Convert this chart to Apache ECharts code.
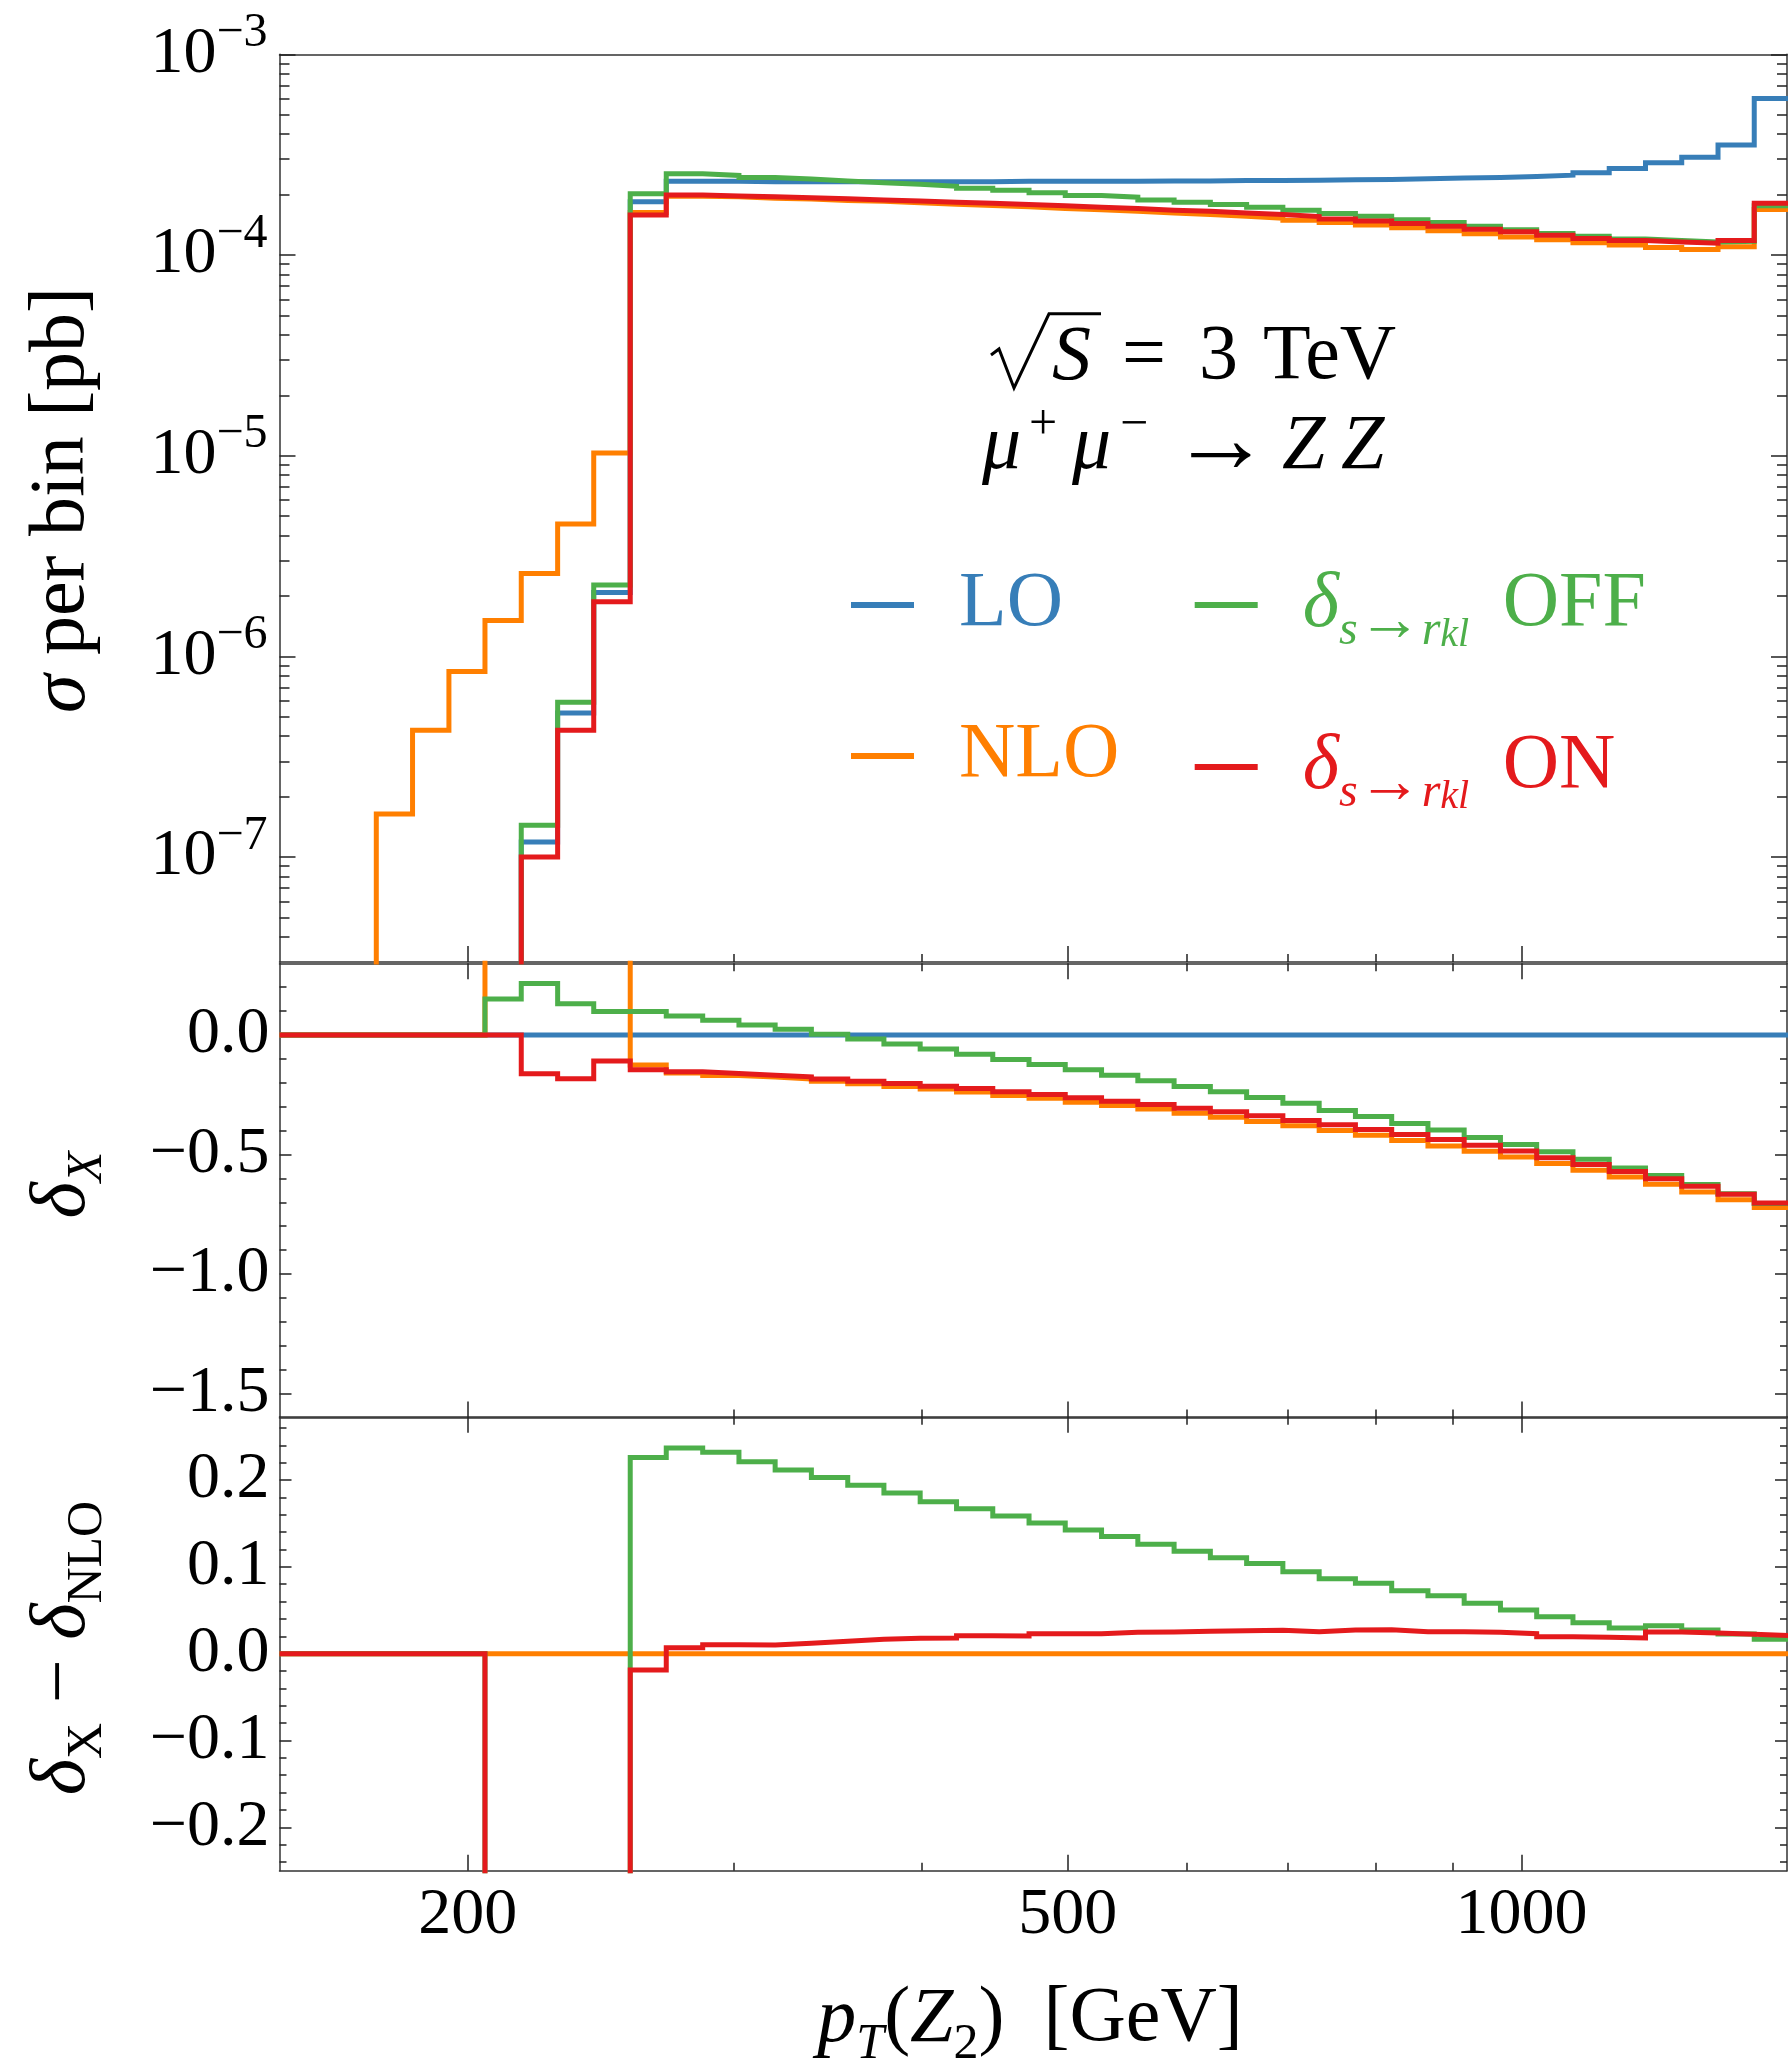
<!DOCTYPE html>
<html><head><meta charset="utf-8">
<script src="https://cdn.jsdelivr.net/npm/echarts@6/dist/echarts.min.js"></script>
<style>html,body{margin:0;padding:0;background:#fff}#c{width:1788px;height:2066px}</style>
</head><body><div id="c"></div>
<script>
// ---------------- data ----------------
// histogram bin edges in pT(Z2) [GeV] (first chunk 150-173.9 is an empty filler)
const binEdges = [150, 173.9, 183.8, 194.3, 205.3, 217.0, 229.4, 242.4, 256.3, 270.8, 286.3,
  302.6, 319.8, 338.0, 357.3, 377.6, 399.1, 421.9, 445.9, 471.3, 498.1, 526.5, 556.5, 588.2,
  621.7, 657.1, 694.5, 734.1, 775.9, 820.1, 866.8, 916.1, 968.3, 1023.4, 1081.7, 1143.3,
  1208.4, 1277.2, 1350.0, 1426.8, 1508.1];

// top panel: sigma per bin [pb]
const sigmaLO = [0, 0, 0, 0, 0, 1.19e-7, 5.22e-7, 2.08e-6, 1.84e-4, 2.33e-4,
  2.33e-4, 2.32e-4, 2.32e-4, 2.32e-4, 2.32e-4, 2.32e-4, 2.32e-4, 2.32e-4, 2.33e-4, 2.33e-4,
  2.33e-4, 2.33e-4, 2.34e-4, 2.34e-4, 2.35e-4, 2.35e-4, 2.36e-4, 2.37e-4, 2.38e-4, 2.40e-4,
  2.42e-4, 2.43e-4, 2.46e-4, 2.50e-4, 2.57e-4, 2.70e-4, 2.88e-4, 3.07e-4, 3.53e-4, 6.03e-4];
const sigmaNLO = [0, 1.64e-7, 4.28e-7, 8.4e-7, 1.51e-6, 2.59e-6, 4.56e-6, 1.03e-5, 1.63e-4, 1.96e-4,
  1.95e-4, 1.92e-4, 1.90e-4, 1.87e-4, 1.85e-4, 1.82e-4, 1.79e-4, 1.765e-4, 1.74e-4, 1.705e-4,
  1.68e-4, 1.65e-4, 1.62e-4, 1.59e-4, 1.56e-4, 1.525e-4, 1.49e-4, 1.45e-4, 1.41e-4, 1.365e-4,
  1.32e-4, 1.275e-4, 1.23e-4, 1.19e-4, 1.15e-4, 1.12e-4, 1.09e-4, 1.065e-4, 1.10e-4, 1.685e-4];
const sigmaOFF = [0, 0, 0, 0, 0, 1.44e-7, 5.9e-7, 2.27e-6, 2.02e-4, 2.54e-4,
  2.49e-4, 2.43e-4, 2.39e-4, 2.34e-4, 2.29e-4, 2.25e-4, 2.20e-4, 2.15e-4, 2.10e-4, 2.04e-4,
  1.98e-4, 1.94e-4, 1.88e-4, 1.83e-4, 1.785e-4, 1.73e-4, 1.67e-4, 1.61e-4, 1.56e-4, 1.50e-4,
  1.45e-4, 1.39e-4, 1.335e-4, 1.28e-4, 1.24e-4, 1.20e-4, 1.18e-4, 1.16e-4, 1.17e-4, 1.76e-4];
const sigmaON = [0, 0, 0, 0, 0, 1.0e-7, 4.28e-7, 1.87e-6, 1.58e-4, 1.99e-4,
  1.97e-4, 1.95e-4, 1.93e-4, 1.905e-4, 1.88e-4, 1.86e-4, 1.83e-4, 1.81e-4, 1.785e-4, 1.76e-4,
  1.73e-4, 1.705e-4, 1.67e-4, 1.65e-4, 1.62e-4, 1.59e-4, 1.555e-4, 1.51e-4, 1.475e-4, 1.435e-4,
  1.39e-4, 1.345e-4, 1.305e-4, 1.255e-4, 1.21e-4, 1.18e-4, 1.16e-4, 1.145e-4, 1.18e-4, 1.81e-4];

// middle panel: delta_X  (10 = off the top of the panel)
const deltaLO = [0, 0, 0, 0, 0, 0, 0, 0, 0, 0,
  0, 0, 0, 0, 0, 0, 0, 0, 0, 0,
  0, 0, 0, 0, 0, 0, 0, 0, 0, 0,
  0, 0, 0, 0, 0, 0, 0, 0, 0, 0];
const deltaNLO = [0, 0, 0, 0, 10, 10, 10, 10, -0.126, -0.159,
  -0.169, -0.176, -0.184, -0.194, -0.204, -0.215, -0.226, -0.239, -0.253, -0.265,
  -0.281, -0.295, -0.310, -0.327, -0.344, -0.362, -0.380, -0.400, -0.419, -0.441,
  -0.464, -0.486, -0.510, -0.538, -0.566, -0.594, -0.624, -0.657, -0.689, -0.722];
const deltaOFF = [0, 0, 0, 0, 0.151, 0.215, 0.131, 0.098, 0.098, 0.080,
  0.0615, 0.042, 0.024, 0.003, -0.017, -0.038, -0.059, -0.081, -0.102, -0.123,
  -0.145, -0.168, -0.191, -0.215, -0.2375, -0.261, -0.286, -0.316, -0.341, -0.370,
  -0.397, -0.429, -0.458, -0.489, -0.520, -0.556, -0.588, -0.626, -0.664, -0.7055];
const deltaON = [0, 0, 0, 0, 0, -0.162, -0.183, -0.109, -0.145, -0.154,
  -0.161, -0.168, -0.175, -0.184, -0.193, -0.203, -0.214, -0.2235, -0.2375, -0.249,
  -0.263, -0.277, -0.291, -0.306, -0.321, -0.338, -0.358, -0.376, -0.395, -0.416,
  -0.437, -0.461, -0.485, -0.514, -0.542, -0.571, -0.601, -0.633, -0.666, -0.703];

// bottom panel: delta_X - delta_NLO  (-10 = off the bottom of the panel)
const diffNLO = [0, 0, 0, 0, 0, 0, 0, 0, 0, 0,
  0, 0, 0, 0, 0, 0, 0, 0, 0, 0,
  0, 0, 0, 0, 0, 0, 0, 0, 0, 0,
  0, 0, 0, 0, 0, 0, 0, 0, 0, 0];
const diffOFF = [0, 0, 0, 0, -10, -10, -10, -10, 0.226, 0.237,
  0.232, 0.221, 0.2116, 0.203, 0.194, 0.1852, 0.175, 0.167, 0.1586, 0.1505,
  0.1425, 0.135, 0.126, 0.118, 0.1106, 0.104, 0.0945, 0.0864, 0.081, 0.0726,
  0.0668, 0.058, 0.0503, 0.0426, 0.0357, 0.0296, 0.0323, 0.0273, 0.0227, 0.0165];
const diffON = [0, 0, 0, 0, -10, -10, -10, -10, -0.0188, 0.0069,
  0.0104, 0.010, 0.0119, 0.0142, 0.0165, 0.0177, 0.018, 0.0207, 0.0204, 0.023,
  0.023, 0.0246, 0.025, 0.0257, 0.0265, 0.0269, 0.0253, 0.0273, 0.0276, 0.0253,
  0.0253, 0.0246, 0.023, 0.0196, 0.0188, 0.018, 0.025, 0.0238, 0.0223, 0.0207];

// ticks
const xMajorTicks = [200, 500, 1000];
const xMinorTicks = [300, 400, 600, 700, 800, 900];
const logMajorTicks = [1e-7, 1e-6, 1e-5, 1e-4, 1e-3];
const logMinorTicks = [4e-8, 5e-8, 6e-8, 7e-8, 8e-8, 9e-8,
  2e-7, 3e-7, 4e-7, 5e-7, 6e-7, 7e-7, 8e-7, 9e-7,
  2e-6, 3e-6, 4e-6, 5e-6, 6e-6, 7e-6, 8e-6, 9e-6,
  2e-5, 3e-5, 4e-5, 5e-5, 6e-5, 7e-5, 8e-5, 9e-5,
  2e-4, 3e-4, 4e-4, 5e-4, 6e-4, 7e-4, 8e-4, 9e-4];
const midMajorTicks = [0, -0.5, -1.0, -1.5];
const midMinorTicks = [0.2, 0.1, -0.1, -0.2, -0.3, -0.4, -0.6, -0.7, -0.8, -0.9, -1.1, -1.2, -1.3, -1.4];
const botMajorTicks = [0.2, 0.1, 0, -0.1, -0.2];
const botMinorTicks = [0.26, 0.24, 0.22, 0.18, 0.16, 0.14, 0.12, 0.08, 0.06, 0.04, 0.02,
  -0.02, -0.04, -0.06, -0.08, -0.12, -0.14, -0.16, -0.18, -0.22, -0.24];

// ---------------- styling / building ----------------
const FONT = 'Liberation Serif';
const COL = {LO: '#377eb8', NLO: '#ff7f00', OFF: '#4daf4a', ON: '#e41a1c'};
const LOG_FLOOR = 1e-12; // empty bins sit below the log axis
const LINE_W = 5;

function steps(vals, logAxis) {
  const pts = vals.map((v, i) => [binEdges[i], (logAxis && v <= 0) ? LOG_FLOOR : v]);
  pts.push([binEdges[vals.length], pts[pts.length - 1][1]]);
  return pts;
}

const frameLS = {color: '#333', width: 1.5};
const tickLS = {color: '#222', width: 1.5};
const xAxes = [], yAxes = [];
const px = [], py = [];

function addX(gi, o) {
  xAxes.push(Object.assign({type: 'log', logBase: 10, min: 150, max: 1500, gridIndex: gi,
    splitLine: {show: false}, axisLabel: {show: false}, axisTick: {show: false},
    axisLine: {show: false, onZero: false}}, o));
  return xAxes.length - 1;
}
function addY(gi, base, o) {
  yAxes.push(Object.assign({gridIndex: gi, splitLine: {show: false}, axisLabel: {show: false},
    axisTick: {show: false}, axisLine: {show: false, onZero: false}}, base, o));
  return yAxes.length - 1;
}
const minusFmt = v => { const s = Math.abs(v) < 1e-9 ? '0.0' : v.toFixed(1); return s.replace('-', '\u2212'); };

const logRich = {
  b: {fontSize: 66, fontFamily: FONT, color: '#000', lineHeight: 90, verticalAlign: 'middle'},
  s: {fontSize: 48, fontFamily: FONT, color: '#000', lineHeight: 50, verticalAlign: 'top'}
};

const yBases = [
  {type: 'log', logBase: 10, min: 3e-8, max: 1e-3},
  {type: 'value', min: -1.6, max: 0.3},
  {type: 'value', min: -0.25, max: 0.273}
];
const yMajor = [logMajorTicks, midMajorTicks, botMajorTicks];
const yMinor = [logMinorTicks, midMinorTicks, botMinorTicks];
const yMajLen = [16, 12, 12], yMinLen = [10, 7, 7];

for (let gi = 0; gi < 3; gi++) {
  px[gi] = addX(gi, {position: 'bottom',
    axisLine: {show: true, onZero: false, lineStyle: frameLS},
    axisTick: {show: true, inside: true, length: 16, customValues: xMajorTicks, lineStyle: tickLS},
    axisLabel: gi === 2 ? {show: true, customValues: xMajorTicks, fontSize: 66, fontFamily: FONT,
      color: '#000', margin: 12, formatter: v => String(Math.round(v))} : {show: false}});
  addX(gi, {position: 'bottom',
    axisTick: {show: true, inside: true, length: 8, customValues: xMinorTicks, lineStyle: tickLS}});
  addX(gi, {position: 'top', axisLine: {show: true, onZero: false, lineStyle: frameLS},
    axisTick: gi > 0 ? {show: true, inside: true, length: 16, customValues: xMajorTicks, lineStyle: tickLS} : {show: false}});
  if (gi > 0) addX(gi, {position: 'top',
    axisTick: {show: true, inside: true, length: 8, customValues: xMinorTicks, lineStyle: tickLS}});

  const lab = gi === 0
    ? {show: true, customValues: logMajorTicks, margin: 12,
       formatter: v => { const e = Math.round(Math.log10(v)); return '{b|10}{s|\u2212' + Math.abs(e) + '}'; },
       rich: logRich}
    : {show: true, customValues: yMajor[gi], margin: 10, fontSize: 66, fontFamily: FONT, color: '#000',
       formatter: minusFmt};
  py[gi] = addY(gi, yBases[gi], {position: 'left',
    axisLine: {show: true, onZero: false, lineStyle: frameLS},
    axisTick: {show: true, inside: true, length: yMajLen[gi], customValues: yMajor[gi], lineStyle: tickLS},
    axisLabel: lab});
  addY(gi, yBases[gi], {position: 'left',
    axisTick: {show: true, inside: true, length: yMinLen[gi], customValues: yMinor[gi], lineStyle: tickLS}});
  addY(gi, yBases[gi], {position: 'right',
    axisLine: {show: true, onZero: false, lineStyle: frameLS},
    axisTick: {show: true, inside: true, length: yMajLen[gi], customValues: yMajor[gi], lineStyle: tickLS}});
  addY(gi, yBases[gi], {position: 'right',
    axisTick: {show: true, inside: true, length: yMinLen[gi], customValues: yMinor[gi], lineStyle: tickLS}});
}

function ser(name, vals, gi, color, logAxis) {
  return {type: 'line', name, step: 'end', data: steps(vals, logAxis), xAxisIndex: px[gi], yAxisIndex: py[gi],
    symbol: 'none', silent: true, animation: false, clip: true, color,
    lineStyle: {width: LINE_W, color, cap: 'butt', join: 'miter'}};
}

const series = [
  ser('LO', sigmaLO, 0, COL.LO, true),
  ser('NLO', sigmaNLO, 0, COL.NLO, true),
  ser('OFF', sigmaOFF, 0, COL.OFF, true),
  ser('ON', sigmaON, 0, COL.ON, true),
  ser('dLO', deltaLO, 1, COL.LO, false),
  ser('dNLO', deltaNLO, 1, COL.NLO, false),
  ser('dOFF', deltaOFF, 1, COL.OFF, false),
  ser('dON', deltaON, 1, COL.ON, false),
  ser('eNLO', diffNLO, 2, COL.NLO, false),
  ser('eOFF', diffOFF, 2, COL.OFF, false),
  ser('eON', diffON, 2, COL.ON, false)
];

// rich text styles
function rs(fs, lh, va, italic) {
  return {fontSize: fs, fontFamily: FONT, lineHeight: lh, verticalAlign: va,
    fontStyle: italic ? 'italic' : 'normal'};
}
const legendRich = {
  a0: Object.assign(rs(78, 100, 'middle', false), {padding: [0, 0, 0, 40]}),
  d0: Object.assign(rs(78, 100, 'middle', true), {padding: [0, 0, 0, 40]}),
  sub: rs(48, 60, 'bottom', true),
  arr: rs(64, 70, 'bottom', false),
  ssub: rs(40, 22, 'bottom', true),
  a: Object.assign(rs(78, 100, 'middle', false), {padding: [0, 0, 0, 14]})
};
const legendLabels = {
  LO: '{a0|LO}', NLO: '{a0|NLO}',
  OFF: '{d0|\u03b4}{sub|s}{arr|\u2192}{sub|r}{ssub|kl}{a| OFF}',
  ON: '{d0|\u03b4}{sub|s}{arr|\u2192}{sub|r}{ssub|kl}{a| ON}'
};
function legendCol(names, left) {
  return {orient: 'vertical', left, top: 566, padding: 0, itemGap: 73, itemWidth: 63, itemHeight: 6,
    icon: 'rect', selectedMode: false, itemStyle: {borderWidth: 0},
    data: names.map(n => ({name: n, textStyle: {color: COL[n]}})),
    formatter: n => legendLabels[n],
    textStyle: {fontFamily: FONT, fontSize: 78, rich: legendRich}};
}

const tR = {
  n: Object.assign(rs(78, 100, 'middle', false), {fill: '#000'}),
  i: Object.assign(rs(78, 100, 'middle', true), {fill: '#000'}),
  sub: Object.assign(rs(50, 56, 'bottom', false), {fill: '#000'}),
  subi: Object.assign(rs(50, 56, 'bottom', true), {fill: '#000'})
};
function T(x, y, text, extra) {
  return Object.assign({type: 'text', x, y, silent: true,
    style: {text, rich: tR, fill: '#000', fontFamily: FONT, fontSize: 78,
      align: 'center', verticalAlign: 'middle', textAlign: 'center', textVerticalAlign: 'middle'}}, extra || {});
}
function L(x, y, text, fs, italic) {
  return {type: 'text', x, y, silent: true,
    style: {text, fill: '#000', fontFamily: FONT, fontSize: fs, fontStyle: italic ? 'italic' : 'normal',
      align: 'left', verticalAlign: 'middle', textAlign: 'left', textVerticalAlign: 'middle'}};
}

const graphics = [
  T(63, 500, '{i|\u03c3}{n| per bin [pb]}', {rotation: Math.PI / 2}),
  T(63, 1185, '{i|\u03b4}{subi|X}', {rotation: Math.PI / 2}),
  T(63, 1648, '{i|\u03b4}{sub|X}{n| \u2212 }{i|\u03b4}{sub|NLO}', {rotation: Math.PI / 2}),
  T(1030, 2020, '{i|p}{subi|T}{n|(}{i|Z}{sub|2}{n|)  [GeV]}'),
  // sqrt(S) = 3 TeV
  {type: 'polyline', silent: true, shape: {points: [[991, 355], [999, 349], [1014, 388], [1049, 313.8], [1101, 313.8]]},
    style: {stroke: '#000', lineWidth: 3, fill: null}},
  L(1052, 358, 'S', 78, true),
  L(1122, 358, '=', 78, false),
  L(1199, 358, '3', 78, false),
  L(1263, 358, 'TeV', 78, false),
  // mu+ mu- -> ZZ
  L(982, 447.7, '\u03bc', 78, true),
  L(1029, 425.6, '+', 50, false),
  L(1072, 447.7, '\u03bc', 78, true),
  L(1120, 425.6, '\u2212', 50, false),
  L(1171, 446, '\u2192', 100, false),
  L(1282, 447.7, 'Z', 78, true),
  L(1341, 447.7, 'Z', 78, true)
];

const gridL = 279.5, gridW = 1507.5;
const option = {
  backgroundColor: '#fff',
  animation: false,
  grid: [
    {left: gridL, top: 54.3, width: gridW, height: 907.7, outerBoundsMode: 'none'},
    {left: gridL, top: 963.3, width: gridW, height: 454.1, outerBoundsMode: 'none'},
    {left: gridL, top: 1416.7, width: gridW, height: 454, outerBoundsMode: 'none'}
  ],
  xAxis: xAxes,
  yAxis: yAxes,
  legend: [legendCol(['LO', 'NLO'], 851), legendCol(['OFF', 'ON'], 1194.7)],
  series,
  graphic: graphics
};

const chart = echarts.init(document.getElementById('c'), null, {renderer: 'canvas', width: 1788, height: 2066});
chart.setOption(option);
</script>
</body></html>
